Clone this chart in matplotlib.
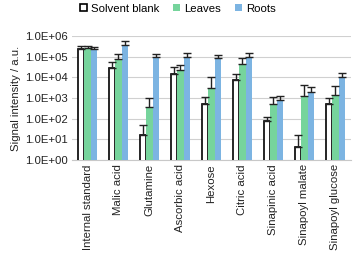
import numpy as np
import matplotlib.pyplot as plt
from matplotlib.ticker import FixedLocator

categories = ['Internal standard', 'Malic acid', 'Glutamine', 'Ascorbic acid', 'Hexose',
              'Citric acid', 'Sinapinic acid', 'Sinapoyl malate', 'Sinapoyl glucose']

blank = [2.4e5, 2.8e4, 16, 1.4e4, 5e2, 7.3e3, 76, 4.3, 5e2]
blank_err = [8e4, 2.5e4, 35, 1.8e4, 6e2, 7e3, 45, 12, 5e2]
leaves = [2.5e5, 7.6e4, 3.6e2, 2.2e4, 3e3, 4.4e4, 5e2, 1.2e3, 1.4e3]
leaves_err = [8e4, 5.5e4, 6.5e2, 1.8e4, 7e3, 4e4, 6e2, 3e3, 2.4e3]
roots = [2.2e5, 3.6e5, 9.4e4, 9.4e4, 8.5e4, 9e4, 8e2, 2e3, 1e4]
roots_err = [7e4, 2e5, 3.5e4, 6e4, 3.5e4, 6e4, 4e2, 1.4e3, 6e3]

yticks = [1, 10, 1e2, 1e3, 1e4, 1e5, 1e6]
ytick_labels = ['1.0E+00', '1.0E+01', '1.0E+02', '1.0E+03', '1.0E+04', '1.0E+05', '1.0E+06']

plt.rcParams['font.family'] = ['Liberation Sans', 'DejaVu Sans']
fs = 8.2

fig = plt.figure(figsize=(3.53, 2.56), dpi=100)
ax = fig.add_axes([0.204, 0.375, 0.79, 0.485])

x = np.arange(len(categories))
w = 0.21
err_kw = dict(ecolor='#222222', elinewidth=1.0, capsize=3, capthick=1.0)
lo = np.zeros(len(categories))
ax.bar(x - w, blank, w, color='white', edgecolor='black', linewidth=1.2,
       yerr=[lo, blank_err], error_kw=err_kw, label='Solvent blank', zorder=3)
ax.bar(x, leaves, w, color='#76d49c', yerr=[lo, leaves_err], error_kw=err_kw,
       label='Leaves', zorder=3)
ax.bar(x + w, roots, w, color='#7cb4e2', yerr=[lo, roots_err], error_kw=err_kw,
       label='Roots', zorder=3)

ax.set_yscale('log')
ax.set_ylim(1, 1e6)
ax.set_xlim(-0.5, len(categories) - 0.5)
ax.yaxis.set_major_locator(FixedLocator(yticks))
ax.set_yticklabels(ytick_labels)
ax.yaxis.set_minor_locator(FixedLocator([]))
ax.set_xticks(x)
ax.set_xticklabels(categories, rotation=90)
ax.tick_params(axis='both', length=0, labelsize=fs, colors='#222222', pad=3)
ax.grid(axis='y', color='#d0d0d0', linewidth=0.8, zorder=0)
for s in ['top', 'right', 'left']:
    ax.spines[s].set_visible(False)
ax.spines['bottom'].set_color('#c8c8c8')
ax.set_ylabel('Signal intensity / a.u.', fontsize=fs, color='#222222', labelpad=3)

ax.legend(loc='upper center', bbox_to_anchor=(0.38, 1.34), ncol=3, frameon=False,
          fontsize=fs, handlelength=0.6, handleheight=0.6, handletextpad=0.4,
          columnspacing=1.2)

fig.savefig('out.png', dpi=100)
